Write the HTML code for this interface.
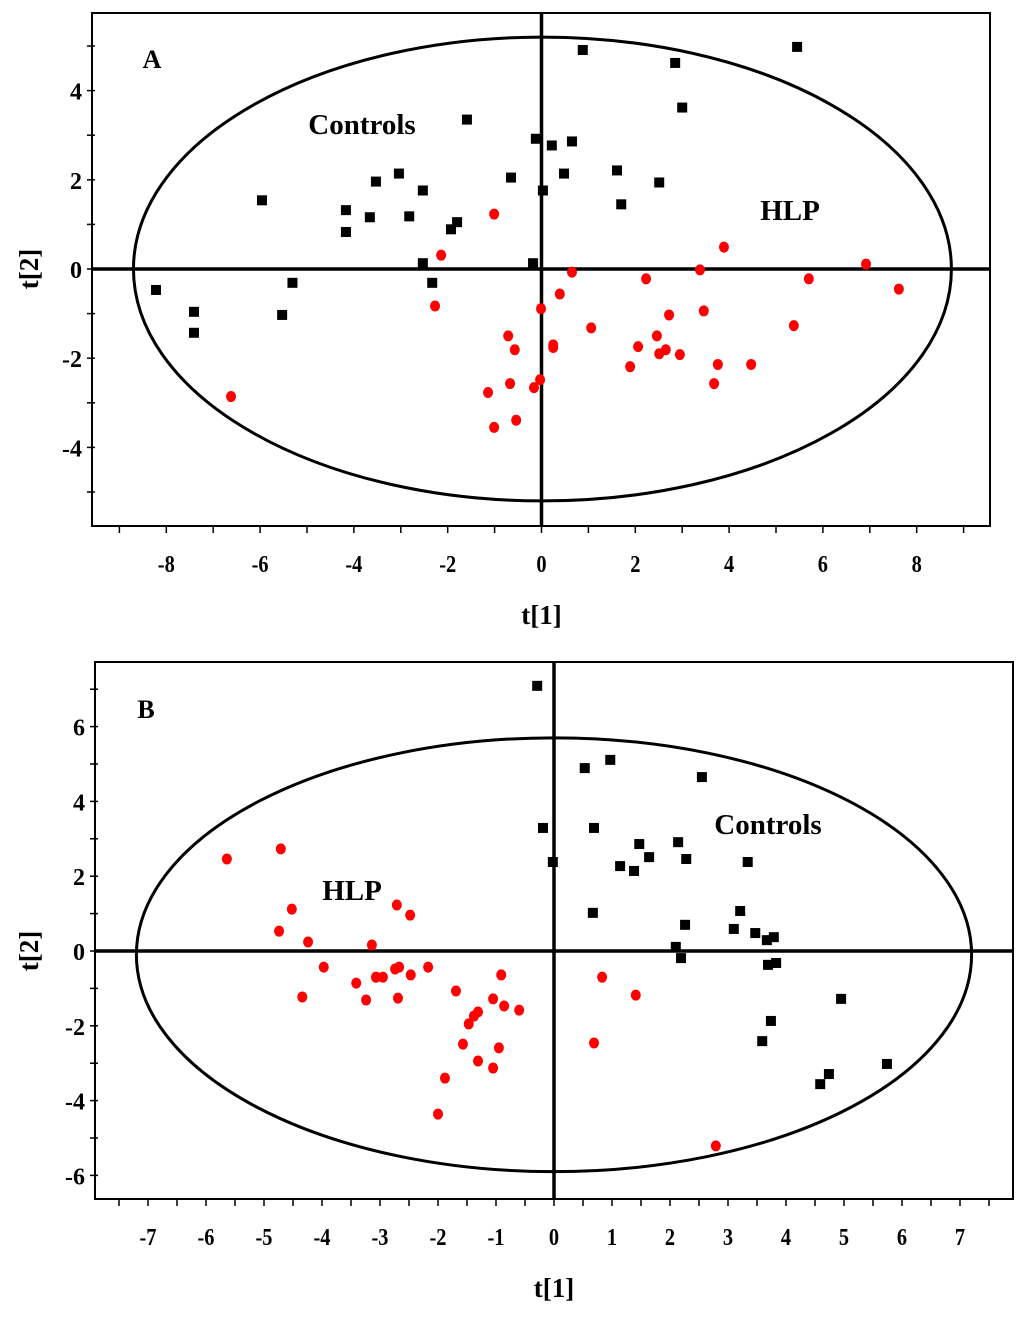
<!DOCTYPE html>
<html><head><meta charset="utf-8"><style>
html,body{margin:0;padding:0;background:#fff}
svg{display:block}
text{font-family:"Liberation Serif",serif;font-weight:bold;fill:#000}
</style></head><body>
<svg id="fig" width="1024" height="1323" viewBox="0 0 1024 1323"></svg>
<script>
// Panel A data
const aCtrlX=[-8.22,-7.41,-7.41,-5.96,-5.31,-5.53,-4.17,-4.17,-3.66,-3.53,-3.04,-2.82,-2.53,-2.53,-2.33,-1.93,-1.80,-1.59,-0.18,-0.12,-0.65,0.03,0.22,0.48,0.65,0.88,1.61,1.70,2.51,2.85,3.00,5.45];
const aCtrlY=[-0.47,-0.96,-1.43,1.54,-0.31,-1.03,1.32,0.83,1.16,1.96,2.14,1.18,1.76,0.13,-0.31,0.89,1.05,3.35,0.13,2.92,2.05,1.76,2.77,2.14,2.86,4.91,2.21,1.45,1.94,4.62,3.62,4.98];
const aHlpX=[-6.62,-2.27,-2.14,-1.01,-1.14,-1.01,-0.71,-0.67,-0.57,-0.54,-0.16,-0.03,-0.01,0.25,0.25,0.39,0.65,1.06,1.89,2.06,2.23,2.46,2.51,2.72,2.65,2.95,3.38,3.46,3.68,3.76,3.89,4.47,5.38,5.70,6.92,7.62];
const aHlpY=[-2.86,-0.83,0.31,1.23,-2.77,-3.55,-1.50,-2.57,-1.81,-3.39,-2.66,-2.48,-0.89,-1.70,-1.76,-0.56,-0.07,-1.32,-2.19,-1.74,-0.22,-1.50,-1.90,-1.03,-1.81,-1.92,-0.02,-0.94,-2.57,-2.14,0.49,-2.14,-1.27,-0.22,0.11,-0.45];
const aXTicks=[-8,-6,-4,-2,0,2,4,6,8];
const aYTicks=[-4,-2,0,2,4];
// Panel B data
const bCtrlX=[-0.29,-0.19,-0.02,0.53,0.97,0.69,0.67,1.14,1.38,1.47,1.64,2.14,2.28,2.55,2.10,2.19,2.26,3.10,3.21,3.34,3.47,3.67,3.79,3.69,3.83,3.74,3.59,4.95,4.74,4.59,5.74];
const bCtrlY=[7.09,3.29,2.38,4.89,5.11,3.29,1.02,2.27,2.14,2.86,2.51,2.91,2.46,4.65,0.11,-0.19,0.70,0.59,1.07,2.38,0.48,0.29,0.37,-0.37,-0.32,-1.87,-2.41,-1.28,-3.29,-3.56,-3.02];
const bHlpX=[-5.64,-4.71,-4.52,-4.74,-4.24,-3.97,-4.34,-3.41,-3.24,-3.14,-3.07,-2.95,-2.74,-2.71,-2.67,-2.48,-2.47,-2.17,-2.69,-1.88,-2.00,-1.69,-1.57,-1.47,-1.38,-1.31,-1.31,-1.05,-1.05,-0.91,-0.95,-0.86,-0.60,0.69,0.83,1.41,2.79];
const bHlpY=[2.46,2.73,1.12,0.53,0.24,-0.43,-1.23,-0.86,-1.31,0.16,-0.70,-0.70,-0.48,1.23,-0.43,0.96,-0.64,-0.43,-1.26,-3.40,-4.36,-1.07,-2.49,-1.95,-1.74,-1.63,-2.94,-1.28,-3.13,-0.64,-2.59,-1.47,-1.58,-2.46,-0.70,-1.18,-5.21];
const bXTicks=[-7,-6,-5,-4,-3,-2,-1,0,1,2,3,4,5,6,7];
const bYTicks=[-6,-4,-2,0,2,4,6];

const NS='http://www.w3.org/2000/svg';
const svg=document.getElementById('fig');
function el(tag,attrs,parent,txt){const e=document.createElementNS(NS,tag);for(const k in attrs)e.setAttribute(k,attrs[k]);if(txt!==undefined)e.textContent=txt;(parent||svg).appendChild(e);return e;}

function panel(P){
  const g=el('g',{},svg);
  
  
  const sx=v=>P.x0+v*P.kx, sy=v=>P.y0-v*P.ky;
  const box=el('rect',{x:P.L,y:P.T,width:P.R-P.L,height:P.B-P.T,fill:'none',stroke:'#000','stroke-width':2},g);
  
  
  for(let v=P.xmin;v<=P.xmax+1e-9;v+=P.xminor){
    const t=el('line',{x1:sx(v),x2:sx(v),y1:P.B,y2:P.B+7,stroke:'#000','stroke-width':1.5},g);
    
    
  }
  P.xt.forEach(v=>{
    const t=el('text',{x:sx(v),y:P.B+46,'text-anchor':'middle','font-size':24,transform:`translate(${sx(v)},0) scale(0.85,1) translate(${-sx(v)},0)`},g,String(v));
    
    
  });
  for(let v=P.ymin;v<=P.ymax+1e-9;v+=P.yminor){
    const t=el('line',{x1:P.L-5,x2:P.L+3,y1:sy(v),y2:sy(v),stroke:'#000','stroke-width':1.5},g);
    
    
  }
  P.yt.forEach(v=>{
    const t=el('text',{x:P.L-10,y:sy(v)+9,'text-anchor':'end','font-size':24},g,String(v));
    
    
  });
  const e=el('ellipse',{cx:sx(P.ecx),cy:sy(P.ecy),rx:P.erx*P.kx,ry:P.ery*P.ky,fill:'none',stroke:'#000','stroke-width':3},g);
  
  
  const h=el('line',{x1:P.L,x2:P.R,y1:sy(0),y2:sy(0),stroke:'#000','stroke-width':3.5},g);
  
  
  const vl=el('line',{x1:sx(0),x2:sx(0),y1:P.T,y2:P.B,stroke:'#000','stroke-width':3.5},g);
  
  
  P.cx.forEach((v,i)=>{
    const r=el('rect',{x:sx(v)-5,y:sy(P.cy[i])-5,width:10,height:10,fill:'#000'},g);
    
    
  });
  P.hx.forEach((v,i)=>{
    const c=el('ellipse',{cx:sx(v),cy:sy(P.hy[i]),rx:5,ry:5.5,fill:'#ff0000'},g);
    
    
  });
  const xt=el('text',{x:sx(0),y:P.B+98,'text-anchor':'middle','font-size':27},g,'t[1]');
  
  
  const yt=el('text',{x:0,y:0,'text-anchor':'middle','font-size':27,transform:`translate(38,${sy(0)}) rotate(-90)`},g,'t[2]');
  
  
  P.labels.forEach(l=>{
    const t=el('text',{x:l[1],y:l[2],'text-anchor':'middle','font-size':l[3]},g,l[0]);
    
    
  });
}
panel({name:'panel-a',L:92,R:990,T:13,B:526,x0:541.5,kx:46.9,y0:269,ky:44.6,
  xmin:-9,xmax:9,xminor:1,ymin:-5,ymax:5,yminor:1,xt:aXTicks,yt:aYTicks,
  ecx:0.02,ecy:0,erx:8.72,ery:5.2,cx:aCtrlX,cy:aCtrlY,hx:aHlpX,hy:aHlpY,
  labels:[['A',152,68,26,'panel-label-a'],['Controls',362,134,29,'controls-group-label'],['HLP',790,220,29,'hlp-group-label']]});
panel({name:'panel-b',L:95,R:1013,T:662,B:1199,x0:554,kx:58.0,y0:951,ky:37.4,
  xmin:-7.5,xmax:7.5,xminor:0.5,ymin:-6,ymax:7,yminor:1,xt:bXTicks,yt:bYTicks,
  ecx:0,ecy:-0.1,erx:7.2,ery:5.8,cx:bCtrlX,cy:bCtrlY,hx:bHlpX,hy:bHlpY,
  labels:[['B',146,718,26,'panel-label-b'],['HLP',352,900,29,'hlp-group-label'],['Controls',768,834,29,'controls-group-label']]});
</script>
</body></html>
